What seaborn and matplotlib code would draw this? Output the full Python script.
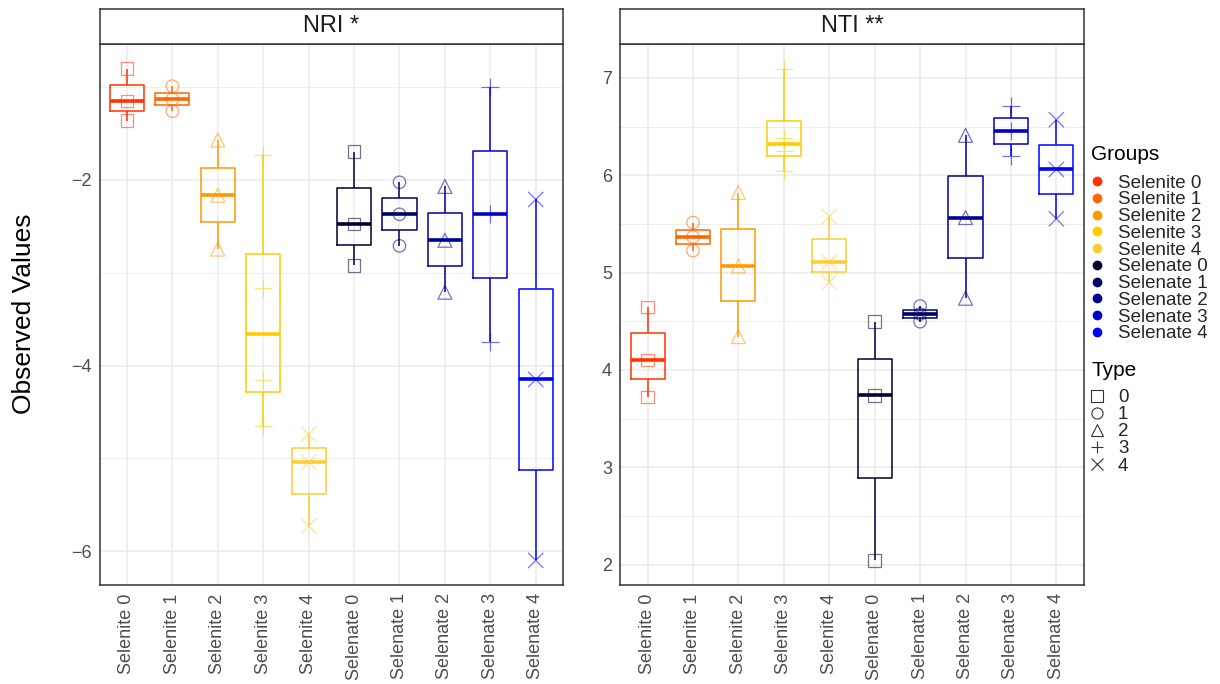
import numpy as np
import pandas as pd
import matplotlib.pyplot as plt
from matplotlib.lines import Line2D
from matplotlib.markers import MarkerStyle
from matplotlib.ticker import MultipleLocator
import seaborn as sns

sns.set_style("white")
plt.rcParams['font.family'] = ['Liberation Sans', 'DejaVu Sans']

groups = ["Selenite 0", "Selenite 1", "Selenite 2", "Selenite 3", "Selenite 4",
          "Selenate 0", "Selenate 1", "Selenate 2", "Selenate 3", "Selenate 4"]
types = ["0", "1", "2", "3", "4"]
group_colors = ["#FF3300", "#FF6600", "#FF9900", "#FFCC00", "#FFCC33",
                "#000033", "#000066", "#000099", "#0000CC", "#0000FF"]
type_markers = ["s", "o", "^", "+", "x"]
type_sizes = [80, 80, 100, 170, 120]

nri_selenite = [[-0.80, -1.15, -1.36],
                [-0.99, -1.13, -1.26],
                [-1.57, -2.165, -2.745],
                [-1.73, -3.16, -4.16, -4.65],
                [-4.74, -5.04, -5.73]]
nri_selenate = [[-1.695, -2.475, -2.92],
                [-2.025, -2.37, -2.71],
                [-2.07, -2.65, -3.21],
                [-1.0, -2.37, -3.745],
                [-2.21, -4.15, -6.10]]
nti_selenite = [[4.65, 4.10, 3.725],
                [5.515, 5.367, 5.226],
                [5.823, 5.069, 4.342],
                [7.096, 6.383, 6.252, 6.04],
                [5.576, 5.107, 4.90]]
nti_selenate = [[4.496, 3.739, 2.044],
                [4.657, 4.575, 4.496],
                [6.41, 5.566, 4.737],
                [6.715, 6.455, 6.194],
                [6.571, 6.06, 5.553]]


def to_frame(selenite, selenate):
    rows = []
    for i, vals in enumerate(selenite + selenate):
        for v in vals:
            rows.append({"group": groups[i], "type": types[i % 5], "value": v})
    return pd.DataFrame(rows)


df_nri = to_frame(nri_selenite, nri_selenate)
df_nti = to_frame(nti_selenite, nti_selenate)
palette = dict(zip(groups, group_colors))

W, H = 1220, 684
fig = plt.figure(figsize=(W / 100, H / 100), dpi=100)

panels = [("NRI *", df_nri, 2, 1, 99.7),
          ("NTI **", df_nti, 1, 0.5, 620.3)]
pw = 463.3
top, bottom = 44, 585

for title, df, major, minor, x0 in panels:
    ax = fig.add_axes([x0 / W, 1 - bottom / H, pw / W, (bottom - top) / H])
    sns.boxplot(data=df, x="group", y="value", hue="group", order=groups,
                hue_order=groups, palette=palette, fill=False, width=0.75,
                whis=(0, 100), showcaps=False, showfliers=False,
                linewidth=1.1, medianprops={"linewidth": 2.6},
                legend=False, ax=ax)
    for i, g in enumerate(groups):
        sub = df[df["group"] == g]
        t = i % 5
        sns.scatterplot(data=sub, x="group", y="value", color=group_colors[i],
                        marker=MarkerStyle(type_markers[t], fillstyle="none"),
                        s=type_sizes[t], linewidth=0.9, alpha=0.55,
                        legend=False, ax=ax)

    lo, hi = df["value"].min(), df["value"].max()
    pad = (hi - lo) * 0.05
    ax.set_ylim(lo - pad, hi + pad)
    ax.set_xlim(-0.6, len(groups) - 0.4)
    ax.yaxis.set_major_locator(MultipleLocator(major))
    ax.yaxis.set_minor_locator(MultipleLocator(minor))
    ax.set_axisbelow(True)
    ax.grid(True, which="major", color="#EBEBEB", linewidth=1.1)
    ax.grid(True, which="minor", axis="y", color="#EBEBEB", linewidth=0.6)
    ax.set_xticks(range(len(groups)))
    ax.set_xticklabels(groups, rotation=90)
    ax.tick_params(which="major", length=4, width=1, color="#333333",
                   labelcolor="#4D4D4D", labelsize=13, pad=2)
    ax.tick_params(which="minor", length=0)
    ax.set_xlabel("")
    ax.set_ylabel("")
    for sp in ax.spines.values():
        sp.set_visible(True)
        sp.set_color("#333333")
        sp.set_linewidth(1.1)

    strip = fig.add_axes([x0 / W, 1 - 43.7 / H, pw / W, 34.4 / H])
    strip.set_xticks([])
    strip.set_yticks([])
    strip.set_facecolor("white")
    for sp in strip.spines.values():
        sp.set_visible(True)
        sp.set_color("#333333")
        sp.set_linewidth(1.1)
    strip.text(0.5, 0.5, title, ha="center", va="center", fontsize=17,
               color="#1A1A1A", transform=strip.transAxes)

fig.text(24 / W, 1 - 314 / H, "Observed Values", rotation=90,
         ha="center", va="center", fontsize=19, color="black")

# legends: titles as plain text, entries as figure legends
fig.text(1091 / W, 1 - 155 / H, "Groups", ha="left", va="center",
         fontsize=15, color="black")
group_handles = [Line2D([], [], ls="", marker="o", color=c, markersize=6)
                 for c in group_colors]
fig.legend(group_handles, groups, loc="upper left",
           bbox_to_anchor=(1086 / W, 1 - 174.5 / H), frameon=False,
           fontsize=13.5, labelspacing=-0.02, handlelength=1.2,
           handletextpad=0.5, borderpad=0, borderaxespad=0)

fig.text(1091 / W, 1 - 370 / H, "Type", ha="left", va="center",
         fontsize=15, color="black")
type_handles = [Line2D([], [], ls="", marker=MarkerStyle(m, fillstyle="none"),
                       color="#333333", markersize=8, markeredgewidth=0.8)
                for m in type_markers]
fig.legend(type_handles, types, loc="upper left",
           bbox_to_anchor=(1086 / W, 1 - 389 / H), frameon=False,
           fontsize=13.5, labelspacing=0.0, handlelength=1.2,
           handletextpad=0.5, borderpad=0, borderaxespad=0)

fig.savefig("out.png", dpi=100)
